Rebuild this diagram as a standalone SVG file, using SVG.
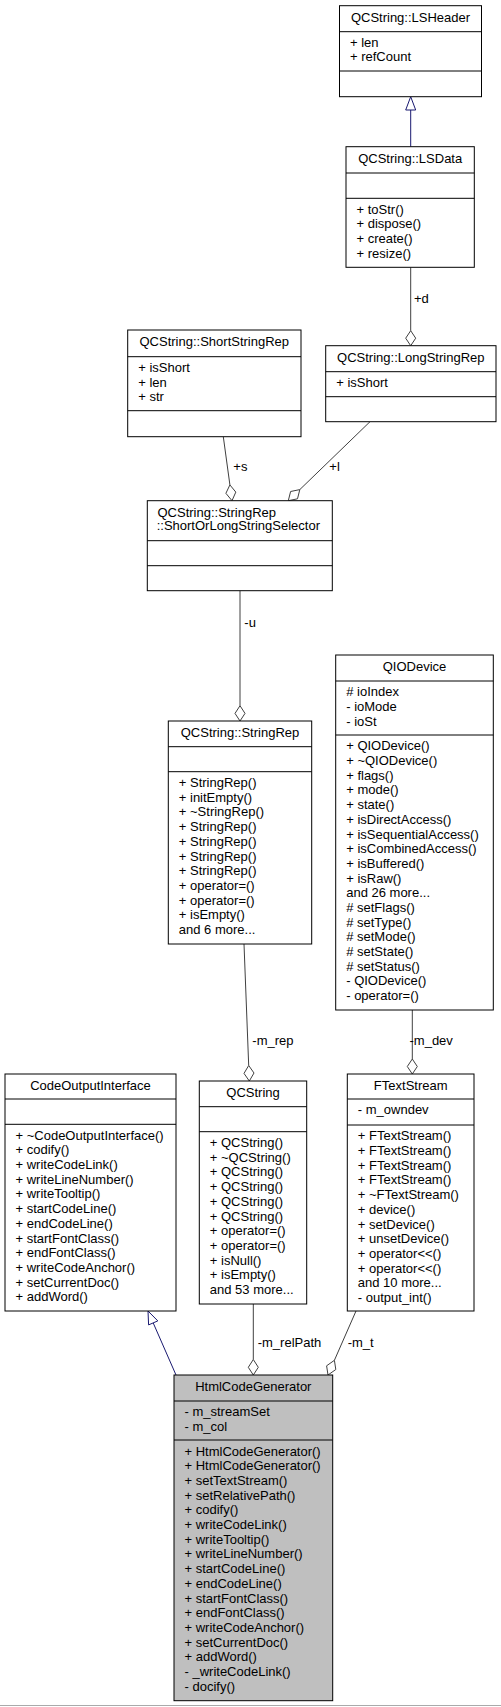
<svg xmlns="http://www.w3.org/2000/svg" width="501" height="1707" viewBox="0 0 501 1707">
<style>
.b{fill:#fff;stroke:#000;stroke-width:1}
.g{fill:#bfbfbf;stroke:#000;stroke-width:1}
.s{stroke:#000;stroke-width:1}
text{font-family:"Liberation Sans",Arial,sans-serif;font-size:13px;fill:#000}
.c{text-anchor:middle}
.e{fill:none;stroke:#404040;stroke-width:1}
.d{fill:#fff;stroke:#404040;stroke-width:1}
.i{fill:none;stroke:#191970;stroke-width:1}
.a{fill:#fff;stroke:#191970;stroke-width:1}
</style>
<rect x="0" y="0" width="501" height="1707" fill="#fff"/>
<g id="connectors">
  <line class="i" x1="410.7" y1="146.7" x2="410.7" y2="110"/>
  <polygon class="a" points="410.7,96.7 405.7,110 415.7,110"/>
  <line class="e" x1="410.7" y1="267.3" x2="410.7" y2="330.7"/>
  <polygon class="d" points="410.7,345.7 405.7,338.2 410.7,330.7 415.7,338.2"/>
  <text x="414" y="302.5">+d</text>
  <line class="e" x1="223.3" y1="436.7" x2="229.9" y2="484.9"/>
  <polygon class="d" points="232,500.7 225.9,493.3 229.9,484.9 235.8,492.1"/>
  <text x="233.3" y="471">+s</text>
  <line class="e" x1="370" y1="421.7" x2="299.8" y2="489.6"/>
  <polygon class="d" points="288.3,500.7 290.6,491.5 299.8,489.6 297.5,498.8"/>
  <text x="329.3" y="471">+l</text>
  <line class="e" x1="240" y1="590.7" x2="240" y2="705.7"/>
  <polygon class="d" points="240,721 235,713.4 240,705.7 245,713.4"/>
  <text x="244.3" y="626.7">-u</text>
  <line class="e" x1="244" y1="944" x2="248.7" y2="1065.5"/>
  <polygon class="d" points="249.3,1081 244,1073.4 248.7,1065.5 254,1073"/>
  <text x="252.3" y="1045">-m_rep</text>
  <line class="e" x1="412.3" y1="1010" x2="412.3" y2="1059"/>
  <polygon class="d" points="412.3,1074 407.3,1066.5 412.3,1059 417.3,1066.5"/>
  <text x="409.5" y="1045">-m_dev</text>
  <line class="i" x1="176" y1="1375" x2="153.2" y2="1322.9"/>
  <polygon class="a" points="148,1311 148.6,1324.9 157.8,1320.9"/>
  <line class="e" x1="253.3" y1="1304" x2="253.3" y2="1359.5"/>
  <polygon class="d" points="253.3,1375 248.3,1367.3 253.3,1359.5 258.3,1367.3"/>
  <text x="257.7" y="1346.7">-m_relPath</text>
  <line class="e" x1="356" y1="1311" x2="334.4" y2="1360.3"/>
  <polygon class="d" points="328,1375 326.6,1365.8 334.4,1360.3 335.8,1369.5"/>
  <text x="347.7" y="1346.7">-m_t</text>
</g>
<g id="LSHeader">
  <rect class="b" x="339.5" y="5.7" width="142" height="91"/>
  <line class="s" x1="339.5" y1="31.7" x2="481.5" y2="31.7"/>
  <line class="s" x1="339.5" y1="71" x2="481.5" y2="71"/>
  <text class="c" x="410.5" y="21.7">QCString::LSHeader</text>
  <text x="350" y="46.7">+ len<tspan x="350" dy="14.7">+ refCount</tspan></text>
</g>
<g id="LSData">
  <rect class="b" x="346" y="146.7" width="128.3" height="120.6"/>
  <line class="s" x1="346" y1="173" x2="474.3" y2="173"/>
  <line class="s" x1="346" y1="198.3" x2="474.3" y2="198.3"/>
  <text class="c" x="410.2" y="162.7">QCString::LSData</text>
  <text x="356.5" y="213.6">+ toStr()<tspan x="356.5" dy="14.7">+ dispose()</tspan><tspan x="356.5" dy="14.7">+ create()</tspan><tspan x="356.5" dy="14.7">+ resize()</tspan></text>
</g>
<g id="ShortStringRep">
  <rect class="b" x="127.7" y="330" width="173.3" height="106.7"/>
  <line class="s" x1="127.7" y1="356.7" x2="301" y2="356.7"/>
  <line class="s" x1="127.7" y1="410.7" x2="301" y2="410.7"/>
  <text class="c" x="214.3" y="346">QCString::ShortStringRep</text>
  <text x="138.2" y="372">+ isShort<tspan x="138.2" dy="14.7">+ len</tspan><tspan x="138.2" dy="14.7">+ str</tspan></text>
</g>
<g id="LongStringRep">
  <rect class="b" x="325.7" y="345.7" width="170.3" height="76"/>
  <line class="s" x1="325.7" y1="371.7" x2="496" y2="371.7"/>
  <line class="s" x1="325.7" y1="396.7" x2="496" y2="396.7"/>
  <text class="c" x="410.8" y="361.7">QCString::LongStringRep</text>
  <text x="336.2" y="387">+ isShort</text>
</g>
<g id="ShortOrLongStringSelector">
  <rect class="b" x="147.3" y="500.7" width="185" height="90"/>
  <line class="s" x1="147.3" y1="540.7" x2="332.3" y2="540.7"/>
  <line class="s" x1="147.3" y1="565.7" x2="332.3" y2="565.7"/>
  <text x="157.5" y="516.7">QCString::StringRep</text>
  <text x="156.7" y="530.3">::ShortOrLongStringSelector</text>
</g>
<g id="StringRep">
  <rect class="b" x="168.3" y="721" width="143.4" height="223"/>
  <line class="s" x1="168.3" y1="746.7" x2="311.7" y2="746.7"/>
  <line class="s" x1="168.3" y1="771.7" x2="311.7" y2="771.7"/>
  <text class="c" x="240" y="737">QCString::StringRep</text>
  <text x="178.8" y="787">+ StringRep()<tspan x="178.8" dy="14.7">+ initEmpty()</tspan><tspan x="178.8" dy="14.7">+ ~StringRep()</tspan><tspan x="178.8" dy="14.7">+ StringRep()</tspan><tspan x="178.8" dy="14.7">+ StringRep()</tspan><tspan x="178.8" dy="14.7">+ StringRep()</tspan><tspan x="178.8" dy="14.7">+ StringRep()</tspan><tspan x="178.8" dy="14.7">+ operator=()</tspan><tspan x="178.8" dy="14.7">+ operator=()</tspan><tspan x="178.8" dy="14.7">+ isEmpty()</tspan><tspan x="178.8" dy="14.7">and 6 more...</tspan></text>
</g>
<g id="QIODevice">
  <rect class="b" x="335.7" y="655" width="157.6" height="355"/>
  <line class="s" x1="335.7" y1="681" x2="493.3" y2="681"/>
  <line class="s" x1="335.7" y1="735" x2="493.3" y2="735"/>
  <text class="c" x="414.5" y="671">QIODevice</text>
  <text x="346.2" y="696.3"># ioIndex<tspan x="346.2" dy="14.7">- ioMode</tspan><tspan x="346.2" dy="14.7">- ioSt</tspan></text>
  <text x="346.2" y="750.3">+ QIODevice()<tspan x="346.2" dy="14.7">+ ~QIODevice()</tspan><tspan x="346.2" dy="14.7">+ flags()</tspan><tspan x="346.2" dy="14.7">+ mode()</tspan><tspan x="346.2" dy="14.7">+ state()</tspan><tspan x="346.2" dy="14.7">+ isDirectAccess()</tspan><tspan x="346.2" dy="14.7">+ isSequentialAccess()</tspan><tspan x="346.2" dy="14.7">+ isCombinedAccess()</tspan><tspan x="346.2" dy="14.7">+ isBuffered()</tspan><tspan x="346.2" dy="14.7">+ isRaw()</tspan><tspan x="346.2" dy="14.7">and 26 more...</tspan><tspan x="346.2" dy="14.7"># setFlags()</tspan><tspan x="346.2" dy="14.7"># setType()</tspan><tspan x="346.2" dy="14.7"># setMode()</tspan><tspan x="346.2" dy="14.7"># setState()</tspan><tspan x="346.2" dy="14.7"># setStatus()</tspan><tspan x="346.2" dy="14.7">- QIODevice()</tspan><tspan x="346.2" dy="14.7">- operator=()</tspan></text>
</g>
<g id="CodeOutputInterface">
  <rect class="b" x="5" y="1074" width="171" height="237"/>
  <line class="s" x1="5" y1="1099" x2="176" y2="1099"/>
  <line class="s" x1="5" y1="1124.3" x2="176" y2="1124.3"/>
  <text class="c" x="90.5" y="1090">CodeOutputInterface</text>
  <text x="15.5" y="1139.6">+ ~CodeOutputInterface()<tspan x="15.5" dy="14.7">+ codify()</tspan><tspan x="15.5" dy="14.7">+ writeCodeLink()</tspan><tspan x="15.5" dy="14.7">+ writeLineNumber()</tspan><tspan x="15.5" dy="14.7">+ writeTooltip()</tspan><tspan x="15.5" dy="14.7">+ startCodeLine()</tspan><tspan x="15.5" dy="14.7">+ endCodeLine()</tspan><tspan x="15.5" dy="14.7">+ startFontClass()</tspan><tspan x="15.5" dy="14.7">+ endFontClass()</tspan><tspan x="15.5" dy="14.7">+ writeCodeAnchor()</tspan><tspan x="15.5" dy="14.7">+ setCurrentDoc()</tspan><tspan x="15.5" dy="14.7">+ addWord()</tspan></text>
</g>
<g id="QCString">
  <rect class="b" x="199.3" y="1081" width="107.4" height="223"/>
  <line class="s" x1="199.3" y1="1106.7" x2="306.7" y2="1106.7"/>
  <line class="s" x1="199.3" y1="1131.7" x2="306.7" y2="1131.7"/>
  <text class="c" x="253" y="1097">QCString</text>
  <text x="209.8" y="1147">+ QCString()<tspan x="209.8" dy="14.7">+ ~QCString()</tspan><tspan x="209.8" dy="14.7">+ QCString()</tspan><tspan x="209.8" dy="14.7">+ QCString()</tspan><tspan x="209.8" dy="14.7">+ QCString()</tspan><tspan x="209.8" dy="14.7">+ QCString()</tspan><tspan x="209.8" dy="14.7">+ operator=()</tspan><tspan x="209.8" dy="14.7">+ operator=()</tspan><tspan x="209.8" dy="14.7">+ isNull()</tspan><tspan x="209.8" dy="14.7">+ isEmpty()</tspan><tspan x="209.8" dy="14.7">and 53 more...</tspan></text>
</g>
<g id="FTextStream">
  <rect class="b" x="347.3" y="1074" width="126.7" height="237"/>
  <line class="s" x1="347.3" y1="1099" x2="474" y2="1099"/>
  <line class="s" x1="347.3" y1="1125" x2="474" y2="1125"/>
  <text class="c" x="410.7" y="1090">FTextStream</text>
  <text x="357.8" y="1114.3">- m_owndev</text>
  <text x="357.8" y="1140.3">+ FTextStream()<tspan x="357.8" dy="14.7">+ FTextStream()</tspan><tspan x="357.8" dy="14.7">+ FTextStream()</tspan><tspan x="357.8" dy="14.7">+ FTextStream()</tspan><tspan x="357.8" dy="14.7">+ ~FTextStream()</tspan><tspan x="357.8" dy="14.7">+ device()</tspan><tspan x="357.8" dy="14.7">+ setDevice()</tspan><tspan x="357.8" dy="14.7">+ unsetDevice()</tspan><tspan x="357.8" dy="14.7">+ operator&lt;&lt;()</tspan><tspan x="357.8" dy="14.7">+ operator&lt;&lt;()</tspan><tspan x="357.8" dy="14.7">and 10 more...</tspan><tspan x="357.8" dy="14.7">- output_int()</tspan></text>
</g>
<g id="HtmlCodeGenerator">
  <rect class="g" x="174" y="1375" width="158.7" height="325.7"/>
  <line class="s" x1="174" y1="1401" x2="332.7" y2="1401"/>
  <line class="s" x1="174" y1="1440" x2="332.7" y2="1440"/>
  <text class="c" x="253.3" y="1391">HtmlCodeGenerator</text>
  <text x="184.5" y="1416.3">- m_streamSet<tspan x="184.5" dy="14.7">- m_col</tspan></text>
  <text x="184.5" y="1455.5">+ HtmlCodeGenerator()<tspan x="184.5" dy="14.7">+ HtmlCodeGenerator()</tspan><tspan x="184.5" dy="14.7">+ setTextStream()</tspan><tspan x="184.5" dy="14.7">+ setRelativePath()</tspan><tspan x="184.5" dy="14.7">+ codify()</tspan><tspan x="184.5" dy="14.7">+ writeCodeLink()</tspan><tspan x="184.5" dy="14.7">+ writeTooltip()</tspan><tspan x="184.5" dy="14.7">+ writeLineNumber()</tspan><tspan x="184.5" dy="14.7">+ startCodeLine()</tspan><tspan x="184.5" dy="14.7">+ endCodeLine()</tspan><tspan x="184.5" dy="14.7">+ startFontClass()</tspan><tspan x="184.5" dy="14.7">+ endFontClass()</tspan><tspan x="184.5" dy="14.7">+ writeCodeAnchor()</tspan><tspan x="184.5" dy="14.7">+ setCurrentDoc()</tspan><tspan x="184.5" dy="14.7">+ addWord()</tspan><tspan x="184.5" dy="14.7">- _writeCodeLink()</tspan><tspan x="184.5" dy="14.7">- docify()</tspan></text>
</g>
<line x1="0" y1="1705.5" x2="501" y2="1705.5" stroke="#aaa" stroke-width="1"/>
</svg>
